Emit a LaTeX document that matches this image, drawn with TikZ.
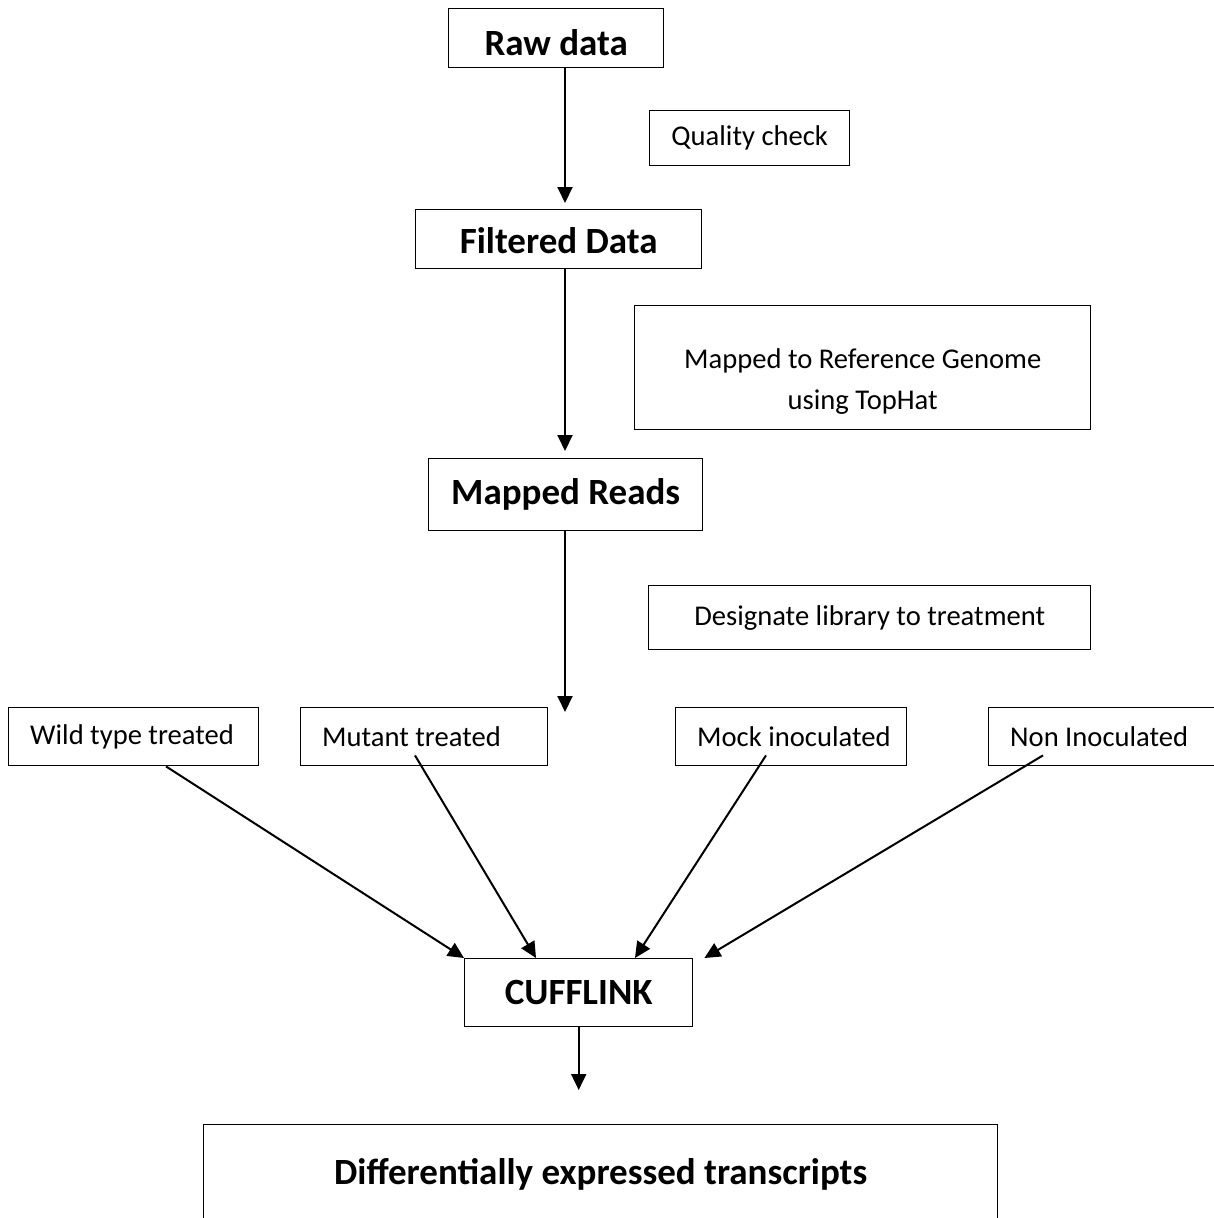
\documentclass[tikz,border=0pt]{standalone}
\usepackage{fontspec}
\setmainfont{Carlito}
\usetikzlibrary{arrows.meta,calc}
\tikzset{
  box/.style={draw, line width=1.4pt, inner sep=0pt, anchor=north west},
  bigtext/.style={font=\bfseries\fontsize{37}{44}\selectfont},
  smalltext/.style={font=\fontsize{28.6}{41}\selectfont},
  groupbox/.style={box, minimum height=58pt,
    label={[smalltext, inner sep=0pt, anchor=west, xshift=22pt]west:#1}},
  arr/.style={line width=2pt, -{Triangle[length=16pt,width=15pt]}}
}
\begin{document}
\begin{tikzpicture}[x=1pt,y=-1pt]
  \useasboundingbox (0,0) rectangle (1214,1218);
  \clip (0,0) rectangle (1214,1218);

  % main pipeline
  \node[box, bigtext, minimum width=215pt, minimum height=59pt, text height=35pt, text depth=0pt] (raw) at (448,8) {Raw data};
  \node[box, smalltext, minimum width=200pt, minimum height=55pt] (qc) at (649,110) {Quality check};
  \node[box, bigtext, minimum width=286pt, minimum height=59pt, text height=28pt, text depth=0pt] (filt) at (415,209) {Filtered Data};
  \node[box, minimum width=456pt, minimum height=124pt,
        label={[smalltext, align=center, yshift=-14pt]center:Mapped to Reference Genome\\using TopHat}] (map) at (634,305) {};
  \node[box, bigtext, minimum width=274pt, minimum height=72pt] (reads) at (428,458) {Mapped Reads};
  \node[box, smalltext, minimum width=442pt, minimum height=64pt] (lib) at (648,585) {Designate library to treatment};

  % treatment groups
  \node[groupbox=Wild type treated, minimum width=250pt] (wild) at (8,707) {};
  \node[groupbox=Mutant treated, minimum width=247pt] (mut) at (300,707) {};
  \node[groupbox=Mock inoculated, minimum width=231pt] (mock) at (675,707) {};
  \node[groupbox=Non Inoculated, minimum width=226pt] (non) at (988,707) {};

  % quantification and result
  \node[box, bigtext, minimum width=228pt, minimum height=68pt] (cuff) at (464,958) {CUFFLINK};
  \node[box, bigtext, minimum width=794pt, minimum height=100pt] (diff) at (203,1124) {Differentially expressed transcripts};

  \coordinate (spine) at (565,0);
  \coordinate (split) at (565,712);

  % vertical flow
  \draw[arr, shorten >=6pt] (raw.south -| spine) -- (filt.north -| spine);
  \draw[arr, shorten >=7pt] (filt.south -| spine) -- (reads.north -| spine);
  \draw[arr] (reads.south -| spine) -- (split);

  % groups into CUFFLINK
  \draw[arr] ([xshift=158pt]wild.south west) -- (cuff.north west);
  \draw[arr] ([xshift=115pt,yshift=11pt]mut.south west) -- ([xshift=72pt]cuff.north west);
  \draw[arr] ([xshift=91pt,yshift=11pt]mock.south west) -- ([xshift=171pt]cuff.north west);
  \draw[arr] ([xshift=55pt,yshift=11pt]non.south west) -- ([xshift=11pt]cuff.north east);

  % result
  \draw[arr, shorten >=34pt] (cuff.south) -- (cuff.south |- diff.north);
\end{tikzpicture}
\end{document}
